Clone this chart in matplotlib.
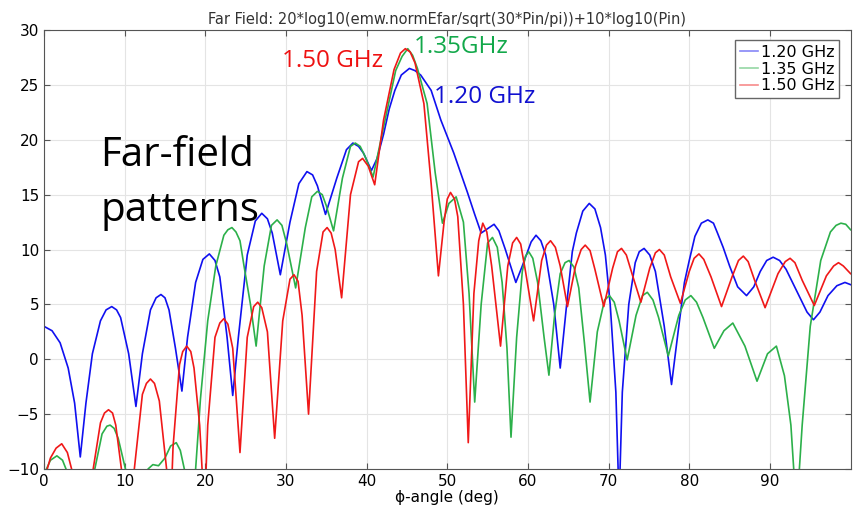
import numpy as np
import matplotlib.pyplot as plt

# (angle deg, level dB)
pts_120 = np.array([
    (0, 3.0), (1, 2.6), (2, 1.5), (3, -0.8), (3.8, -4), (4.5, -8.9), (5.2, -4), (6, 0.5), (7, 3.5),
    (7.7, 4.5), (8.4, 4.8), (9.0, 4.5), (9.5, 3.8), (10.5, 0.5), (11.4, -4.3), (12.2, 0.5), (13.2, 4.5),
    (13.9, 5.6), (14.5, 5.9), (15.0, 5.6), (15.5, 4.5), (16.3, 1), (17.1, -2.9), (17.8, 2), (18.8, 7),
    (19.7, 9.1), (20.5, 9.6), (21.2, 9.0), (21.8, 7.5), (22.7, 2), (23.4, -3.3), (24.1, 2), (25.2, 9.5),
    (26.2, 12.6), (27.0, 13.3), (27.7, 12.8), (28.3, 11.5), (29.3, 7.7), (30.5, 12.5), (31.6, 16.0),
    (32.6, 17.1), (33.3, 16.8), (33.9, 15.8), (34.9, 13.2), (36.3, 16.5), (37.5, 19.1), (38.3, 19.7),
    (39.0, 19.4), (39.6, 18.8), (40.6, 17.2), (41.3, 18.3), (42.1, 20.5), (42.8, 22.8), (43.5, 24.5),
    (44.3, 25.9), (45.3, 26.5), (46.0, 26.3), (46.7, 25.9), (48.0, 24.5), (49.2, 21.8), (50.8, 18.8),
    (52.5, 15.2), (53.4, 13.2), (54.2, 11.5), (55.0, 11.9), (55.8, 12.3), (56.4, 11.7), (57.2, 10.0),
    (58.5, 7.0), (59.3, 8.5), (59.8, 9.5), (60.4, 10.7), (61.0, 11.3), (61.6, 10.8), (62.2, 9.5),
    (63.2, 5), (64.0, -0.8), (64.8, 5), (65.5, 9.8), (66.0, 11.5), (66.8, 13.5), (67.6, 14.2),
    (68.3, 13.7), (69.0, 12), (69.6, 9.5), (70.2, 5), (70.9, -3), (71.3, -13), (71.7, -3), (72.5, 5),
    (73.3, 8.8), (73.8, 9.8), (74.4, 10.1), (75.1, 9.5), (75.8, 8), (76.9, 3), (77.8, -2.3), (78.7, 3),
    (79.4, 7), (80.0, 9), (80.7, 11.2), (81.5, 12.4), (82.3, 12.7), (83.0, 12.4), (83.5, 11.5),
    (84.2, 10.2), (85.0, 8.5), (86.0, 6.6), (87.1, 5.8), (88.0, 6.6), (88.8, 8.0), (89.6, 9.0),
    (90.4, 9.3), (91.2, 9.0), (92.0, 8.2), (93.8, 5.5), (94.6, 4.3), (95.4, 3.6), (96.2, 4.3),
    (97.2, 5.8), (98.3, 6.7), (99.3, 7.0), (100, 6.8),
])

pts_135 = np.array([
    (0, -10.5), (0.8, -9.2), (1.6, -8.8), (2.3, -9.2), (3.0, -10.5), (3.5, -14), (5.8, -14), (6.3, -10),
    (7.2, -6.8), (7.8, -6.1), (8.2, -6.0), (8.7, -6.3), (9.2, -7.2), (10.1, -10), (10.6, -14),
    (12.5, -14), (12.9, -10), (13.5, -9.6), (14.2, -9.7), (15.0, -9.0), (15.7, -7.9), (16.4, -7.6),
    (16.9, -8.3), (17.4, -10), (17.8, -14), (18.5, -14), (18.8, -10), (19.4, -3.6), (20.3, 3.5),
    (21.3, 8.5), (22.3, 11.3), (22.8, 11.8), (23.3, 12.0), (23.8, 11.6), (24.3, 10.8), (24.8, 8.5),
    (25.6, 5), (26.3, 1.2), (27.3, 8.5), (28.2, 12.2), (28.9, 12.7), (29.5, 12.2), (30.1, 10.5),
    (31.2, 6.5), (32.4, 12), (33.2, 14.8), (33.9, 15.3), (34.5, 15.0), (35.0, 14), (35.9, 11.7),
    (37.0, 16.5), (38.0, 19.4), (38.6, 19.7), (39.2, 19.4), (39.8, 18.5), (40.8, 16.6), (42.2, 21.5),
    (43.6, 26.3), (44.4, 27.6), (45.1, 28.3), (45.7, 27.7), (46.3, 26.5), (47.5, 23.3), (48.5, 17),
    (49.4, 12.4), (50.2, 14.2), (51.1, 14.8), (52.0, 12.5), (52.7, 6), (53.4, -3.9), (54.2, 5),
    (55.0, 10.6), (55.6, 11.1), (56.2, 10.2), (56.8, 7), (57.4, 1), (57.9, -7.1), (58.6, 2), (59.3, 8),
    (59.7, 9.4), (60.1, 9.8), (60.6, 9.2), (61.2, 7), (62.0, 2), (62.6, -1.45), (63.3, 4), (64.0, 7.8),
    (64.6, 8.8), (65.1, 9.0), (65.7, 8.4), (66.3, 6.5), (67.0, 1.5), (67.7, -3.9), (68.6, 2.5),
    (69.5, 5.4), (70.1, 5.8), (70.7, 5.2), (71.3, 3.5), (72.3, -0.06), (73.4, 4), (74.2, 5.8),
    (74.8, 6.1), (75.5, 5.4), (76.2, 3.8), (77.4, 0.3), (78.7, 4), (79.5, 5.4), (80.2, 5.8),
    (80.9, 5.2), (81.7, 3.8), (83.1, 1.0), (84.3, 2.6), (85.4, 3.3), (86.9, 1.2), (88.4, -2.0),
    (89.7, 0.5), (90.8, 1.2), (91.8, -1.5), (92.6, -6), (93.3, -14), (94.0, -6), (95.0, 3), (96.3, 9),
    (97.5, 11.6), (98.2, 12.2), (98.8, 12.4), (99.4, 12.3), (100, 11.8),
])

pts_150 = np.array([
    (0, -11), (0.8, -9), (1.5, -8.1), (2.2, -7.7), (2.9, -8.5), (3.6, -10.5), (4.2, -14), (5.5, -14),
    (6.1, -10), (7.0, -5.8), (7.5, -4.9), (8.0, -4.6), (8.5, -4.9), (8.9, -6), (9.6, -10), (10.2, -14),
    (10.7, -14), (11.2, -10), (12.2, -3.2), (12.7, -2.2), (13.2, -1.8), (13.7, -2.2), (14.3, -3.8),
    (15.2, -10), (15.5, -14), (15.7, -14), (16.0, -8), (16.8, -0.5), (17.2, 0.7), (17.7, 1.2),
    (18.2, 0.7), (18.6, -0.8), (19.3, -6), (19.9, -14), (20.3, -6), (21.2, 2), (21.8, 3.3), (22.3, 3.7),
    (22.8, 3.2), (23.4, 1.0), (24.3, -8.5), (25.2, 2), (26.0, 4.8), (26.5, 5.2), (27.0, 4.7),
    (27.7, 2.5), (28.6, -7.2), (29.6, 3.5), (30.5, 7.3), (31.0, 7.7), (31.5, 7.1), (32.0, 4),
    (32.8, -5.0), (33.8, 8), (34.6, 11.6), (35.1, 12.0), (35.6, 11.5), (36.1, 10), (36.9, 5.6),
    (38.0, 15), (39.0, 18.0), (39.5, 18.3), (40.2, 17.6), (41.0, 15.9), (42.1, 21.8), (43.4, 26.4),
    (44.2, 27.9), (44.8, 28.3), (45.4, 28.0), (46.0, 27.0), (47.1, 23.3), (48.0, 16), (48.9, 7.6),
    (49.6, 12.5), (50.0, 14.6), (50.4, 15.2), (50.9, 14.6), (51.3, 13), (52.0, 5), (52.6, -7.6),
    (53.3, 6), (53.9, 10.8), (54.4, 12.4), (54.9, 11.6), (55.5, 8.5), (56.6, 1.2), (57.5, 8.5),
    (58.1, 10.6), (58.6, 11.1), (59.1, 10.5), (59.7, 8), (60.7, 3.5), (61.7, 9), (62.3, 10.4),
    (62.8, 10.8), (63.4, 10.2), (64.0, 8.5), (64.9, 4.8), (65.9, 8.5), (66.6, 10.0), (67.1, 10.4),
    (67.7, 9.9), (68.3, 8.2), (69.4, 4.8), (70.5, 8.3), (71.1, 9.8), (71.6, 10.1), (72.2, 9.5),
    (72.9, 7.8), (74.0, 5.2), (75.1, 8.3), (75.8, 9.7), (76.3, 10.0), (76.9, 9.5), (77.7, 7.5),
    (78.9, 5.1), (80.0, 8), (80.6, 9.2), (81.2, 9.6), (81.8, 9.1), (82.7, 7.5), (84.0, 4.8), (85.3, 7.5),
    (86.1, 9.0), (86.7, 9.4), (87.3, 8.9), (88.1, 7.2), (89.4, 4.7), (91.0, 7.8), (91.9, 8.9),
    (92.5, 9.2), (93.1, 8.8), (94.0, 7.2), (95.5, 4.9), (97.0, 7.6), (97.9, 8.5), (98.5, 8.8),
    (99.1, 8.5), (100, 7.8),
])

labels = ["1.20 GHz", "1.35 GHz", "1.50 GHz"]

c_blue = "#1010f0"
c_green = "#2cb04a"
c_red = "#f01818"

fig = plt.figure(figsize=(8.54, 5.15), dpi=100)
ax = fig.add_axes([0.0515, 0.0893, 0.9445, 0.8524])

ax.plot(pts_120[:, 0], pts_120[:, 1], color=c_blue, lw=1.2, label=labels[0])
ax.plot(pts_135[:, 0], pts_135[:, 1], color=c_green, lw=1.2, label=labels[1])
ax.plot(pts_150[:, 0], pts_150[:, 1], color=c_red, lw=1.2, label=labels[2])

ax.set_xlim(0, 100)
ax.set_ylim(-10, 30)
ax.set_xticks(np.arange(0, 100, 10))
ax.set_yticks(np.arange(-10, 31, 5))
ax.tick_params(direction="in", top=True, right=True, labelsize=11, length=4, color="#555555")
ax.grid(True, color="#e4e4e4", lw=0.8)
ax.set_axisbelow(True)
for s in ax.spines.values():
    s.set_color("#555555")

ax.set_title("Far Field: 20*log10(emw.normEfar/sqrt(30*Pin/pi))+10*log10(Pin)", fontsize=10.5, color="#333333", pad=4)
ax.set_xlabel("\u03d5-angle (deg)", fontsize=11, labelpad=1)

leg = ax.legend(loc="upper right", bbox_to_anchor=(0.99, 0.985), fontsize=11.5, fancybox=False,
                handlelength=1.1, handletextpad=0.2, borderpad=0.3, labelspacing=0.12,
                borderaxespad=0.2, framealpha=1)
leg.get_frame().set_edgecolor("#666666")
for l in leg.get_lines():
    l.set_alpha(0.5)

ax.text(7.0, 17.57, "Far-field", fontsize=29, family="Open Sans", ha="left", va="baseline", color="black")
ax.text(7.0, 12.57, "patterns", fontsize=29, family="Open Sans", ha="left", va="baseline", color="black")
ax.text(29.5, 26.67, "1.50 GHz", fontsize=17.5, family="Open Sans", color="#ee1111", ha="left", va="baseline")
ax.text(45.8, 27.88, "1.35GHz", fontsize=17.5, family="Open Sans", color="#12a84a", ha="left", va="baseline")
ax.text(48.3, 23.39, "1.20 GHz", fontsize=17.5, family="Open Sans", color="#1010d0", ha="left", va="baseline")

fig.savefig("out.png", dpi=100)
